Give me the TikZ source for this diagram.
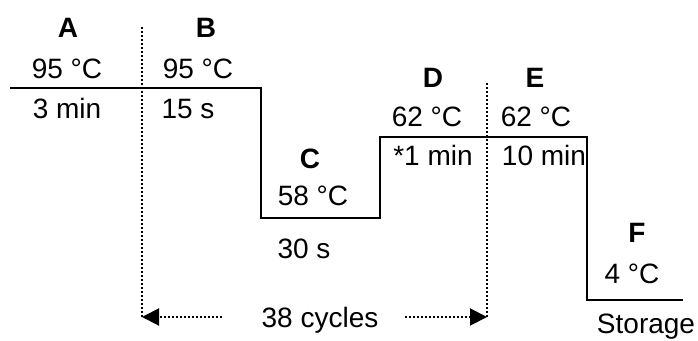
\documentclass[tikz,border=0pt]{standalone}
\usepackage{fontspec}
\setmainfont{Liberation Sans}
\usetikzlibrary{arrows.meta}
\begin{document}
\begin{tikzpicture}[x=1pt,y=-1pt,
  lbl/.style={font=\fontsize{28}{33}\selectfont, anchor=base, inner sep=0pt},
  hd/.style={font=\fontsize{28}{33}\selectfont\bfseries, anchor=base, inner sep=0pt},
  curve/.style={line width=2pt, line join=miter},
  dots/.style={line width=2pt, dash pattern=on 2pt off 2pt},
  tip/.style={-{Triangle[length=17pt,width=17pt]}}]
\useasboundingbox (0,0) rectangle (698,340);
% temperature profile
\coordinate (s0) at (10,88);
\coordinate (s1) at (261,88);
\coordinate (s2) at (261,218);
\coordinate (s3) at (380,218);
\coordinate (s4) at (380,137);
\coordinate (s5) at (587,137);
\coordinate (s6) at (587,300);
\coordinate (s7) at (683,300);
\draw[curve] (s0) -- (s1) -- (s2) -- (s3) -- (s4) -- (s5) -- (s6) -- (s7);
% cycle markers
\coordinate (l1) at (142,27);
\coordinate (l2) at (142,317);
\coordinate (r1) at (487,83);
\coordinate (r2) at (487,317);
\draw[dots] (l1) -- (l2);
\draw[dots] (r1) -- (r2);
\coordinate (la) at (222,317);
\coordinate (ra) at (405,317);
\draw[dots, tip] (la) -- (l2);
\draw[dots, tip] (ra) -- (r2);
% labels
\node[hd]  (nA)  at (68,37)  {A};
\node[lbl] (tA)  at (67,78)  {95 °C};
\node[lbl] (dA)  at (67,118) {3 min};
\node[hd]  (nB)  at (206,37) {B};
\node[lbl] (tB)  at (198,78) {95 °C};
\node[lbl] (dB)  at (188,118) {15 s};
\node[hd]  (nC)  at (310,168) {C};
\node[lbl] (tC)  at (313,205) {58 °C};
\node[lbl] (dC)  at (304,258) {30 s};
\node[hd]  (nD)  at (433,87) {D};
\node[lbl] (tD)  at (427,126) {62 °C};
\node[lbl] (dD)  at (433,165) {*1 min};
\node[hd]  (nE)  at (535,87) {E};
\node[lbl] (tE)  at (536,126) {62 °C};
\node[lbl] (dE)  at (544,165) {10 min};
\node[hd]  (nF)  at (637,242) {F};
\node[lbl] (tF)  at (632,283) {4 °C};
\node[lbl] (dF)  at (646,333) {Storage};
\node[lbl] (cyc) at (320,327) {38 cycles};
\end{tikzpicture}
\end{document}
